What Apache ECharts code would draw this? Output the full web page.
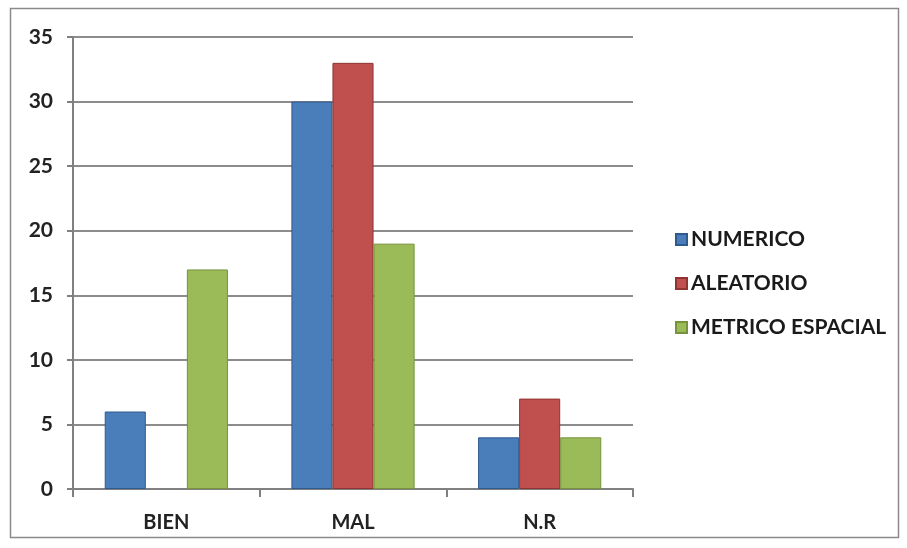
<!DOCTYPE html>
<html>
<head>
<meta charset="utf-8">
<script src="https://cdn.jsdelivr.net/npm/echarts@6/dist/echarts.min.js"></script>
<style>
  html, body { margin: 0; padding: 0; background: #fff; }
  #chart { width: 907px; height: 548px; }
</style>
</head>
<body>
<div id="chart"></div>
<script>
// Categories and series values
const categories = ['BIEN', 'MAL', 'N.R'];
const numerico = [6, 30, 4];
const aleatorio = [0, 33, 7];
const metricoEspacial = [17, 19, 4];
const seriesNames = ['NUMERICO', 'ALEATORIO', 'METRICO ESPACIAL'];

const colors = ['#4A7EBB', '#C0504D', '#9BBB59'];
const borders = ['#2f5a8e', '#8f3431', '#76923c'];
const fontFamily = 'Lato, "Open Sans", "Liberation Sans", sans-serif';

const chart = echarts.init(document.getElementById('chart'));

function barSeries(name, data, i) {
  return {
    name: name,
    type: 'bar',
    // zero-height bars are left without an outline
    data: data.map(v => v === 0 ? { value: v, itemStyle: { borderWidth: 0 } } : v),
    barGap: '0%',
    barCategoryGap: '34%',
    itemStyle: { color: colors[i], borderColor: borders[i], borderWidth: 1 }
  };
}

chart.setOption({
  animation: false,
  backgroundColor: '#fff',
  graphic: [{
    type: 'rect',
    shape: { x: 10.5, y: 8.5, width: 888, height: 529 },
    style: { fill: 'none', stroke: '#8a8a8a', lineWidth: 1.5 },
    silent: true,
    z: -1
  }],
  grid: { left: 73, right: 274, top: 37, bottom: 59 },
  legend: {
    orient: 'vertical',
    left: 670,
    top: 224,
    itemWidth: 11,
    itemHeight: 11,
    itemGap: 23,
    icon: 'rect',
    textStyle: { fontFamily: fontFamily, fontSize: 21, fontWeight: 'bold', color: '#1a1a1a', padding: [0, 0, 0, -1] },
    data: seriesNames
  },
  xAxis: {
    type: 'category',
    data: categories,
    axisLine: { lineStyle: { color: '#808080', width: 2 } },
    axisTick: { show: true, length: 8, lineStyle: { color: '#808080', width: 2 } },
    axisLabel: { fontFamily: fontFamily, fontSize: 20, fontWeight: 'bold', color: '#222', margin: 24 }
  },
  yAxis: {
    type: 'value',
    min: 0,
    max: 35,
    interval: 5,
    axisLine: { show: true, lineStyle: { color: '#808080', width: 2 } },
    axisTick: { show: true, length: 6, lineStyle: { color: '#808080', width: 2 } },
    splitLine: { lineStyle: { color: '#8c8c8c', width: 2 } },
    axisLabel: { fontFamily: fontFamily, fontSize: 21, fontWeight: 'bold', color: '#222', margin: 20 }
  },
  series: [
    barSeries(seriesNames[0], numerico, 0),
    barSeries(seriesNames[1], aleatorio, 1),
    barSeries(seriesNames[2], metricoEspacial, 2)
  ]
});
</script>
</body>
</html>
